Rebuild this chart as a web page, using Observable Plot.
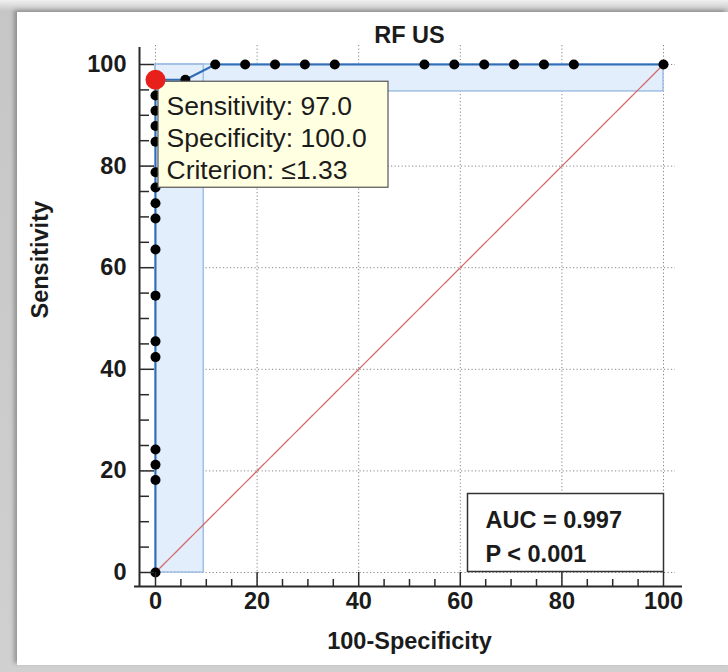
<!DOCTYPE html>
<html><head><meta charset="utf-8">
<script src="https://cdn.jsdelivr.net/npm/d3@7"></script>
<script src="https://cdn.jsdelivr.net/npm/@observablehq/plot@0.6"></script>
<style>
body{margin:0;background:#fff;}
#wrap{position:relative;width:728px;height:672px;background:linear-gradient(to bottom,#f0f0f0 0px,#c6c6c6 11px,#d0d0d0 100%);overflow:hidden}
#panel{position:absolute;left:17px;top:12px;right:0;bottom:7px;background:#fff;box-shadow:-3px -2px 4px rgba(0,0,0,0.28);}
#wrap svg{position:absolute;left:0;top:0}
</style></head><body><div id="wrap"><div id="panel"></div></div>
<script>
// ---- data ----
const titleText = "RF US";
const xTitle = "100-Specificity";
const yTitle = "Sensitivity";
const rocFpr  = [0,0,0,0,0,0,0,0,0,0,0,0,0,0,0,0,0, 5.88, 11.76, 17.65, 23.53, 29.41, 35.29, 52.94, 58.82, 64.71, 70.59, 76.47, 82.35, 100];
const rocSens = [0,18.2,21.2,24.2,42.4,45.5,54.5,63.6,69.7,72.7,75.8,78.8,84.8,87.9,90.9,93.9,97.0, 97.0, 100,100,100,100,100,100,100,100,100,100,100,100];
const critFpr = [0];
const critSens = [97.0];
const tipLines = ["Sensitivity: 97.0", "Specificity: 100.0", "Criterion: \u22641.33"];
const bandX1 = [0, 0];
const bandX2 = [9.5, 100];
const bandY1 = [0, 94.7];
const bandY2 = [100, 100];
const diagX = [0, 100];
const diagY = [0, 100];
const majorTicks = [0, 20, 40, 60, 80, 100];
const minorTicks = [5, 10, 15, 25, 30, 35, 45, 50, 55, 65, 70, 75, 85, 90, 95];
const statLines = ["AUC = 0.997", "P < 0.001"];

// ---- tables ----
const roc = rocFpr.map((f, i) => ({fpr: f, sens: rocSens[i]}));
const crit = critFpr.map((f, i) => ({fpr: f, sens: critSens[i]}));
const bands = bandX1.map((v, i) => ({x1: v, x2: bandX2[i], y1: bandY1[i], y2: bandY2[i]}));
const diag = diagX.map((v, i) => ({x: v, y: diagY[i]}));

const font = "'Liberation Sans', Arial, sans-serif";
const dark = "#1b1b1b";
const gridStyle = {stroke: "#858585", strokeWidth: 1, strokeDasharray: "1.2,2.3"};

const chart = Plot.plot({
  width: 728, height: 672,
  marginLeft: 155, marginRight: 65, marginTop: 64, marginBottom: 100,
  x: {domain: [0, 100], axis: null},
  y: {domain: [0, 100], axis: null},
  style: {background: "transparent", fontFamily: font, overflow: "visible", color: dark},
  marks: [
    // grid
    Plot.ruleX(majorTicks, {x: d => d, insetTop: -19, insetBottom: -14, ...gridStyle}),
    Plot.ruleY(majorTicks, {y: d => d, insetLeft: -16, insetRight: -12, ...gridStyle}),
    // CI bands
    Plot.rect(bands, {x1: "x1", x2: "x2", y1: "y1", y2: "y2", fill: "#e2eefc"}),
    Plot.rect(bands, {x1: "x1", x2: "x2", y1: "y1", y2: "y2", fill: "none", stroke: "#9fbfe3", strokeWidth: 1.5}),
    // diagonal reference
    Plot.line(diag, {x: "x", y: "y", stroke: "#d05a5a", strokeWidth: 1.3, strokeDasharray: "2.5,1", strokeOpacity: 0.9}),
    // ROC curve
    Plot.line(roc, {x: "fpr", y: "sens", stroke: "#2f6db5", strokeWidth: 2}),
    Plot.dot(roc, {x: "fpr", y: "sens", r: 5, fill: "#000", stroke: "none"}),
    // axes lines
    Plot.ruleX([0], {x: d => d, dx: -16, insetTop: -17, insetBottom: -15, stroke: "#2a2a2a", strokeWidth: 2}),
    Plot.ruleY([0], {y: d => d, dy: 14, insetLeft: -21, insetRight: -19, stroke: "#2a2a2a", strokeWidth: 2}),
    // ticks y
    Plot.ruleY(minorTicks, {y: d => d, insetLeft: -16, insetRight: 514, stroke: "#2a2a2a", strokeWidth: 1.5}),
    Plot.ruleY(majorTicks, {y: d => d, insetLeft: -16, insetRight: 509, stroke: "#2a2a2a", strokeWidth: 1.5}),
    // ticks x
    Plot.ruleX(minorTicks, {x: d => d, insetTop: 515, insetBottom: -14, stroke: "#2a2a2a", strokeWidth: 1.5}),
    Plot.ruleX(majorTicks, {x: d => d, insetTop: 508, insetBottom: -14, stroke: "#2a2a2a", strokeWidth: 1.5}),
    // tick labels
    Plot.text(majorTicks, {y: d => d, text: d => String(d), frameAnchor: "left", dx: -29, textAnchor: "end", fontSize: 23.5, fontWeight: "bold", fill: dark}),
    Plot.text(majorTicks, {x: d => d, text: d => String(d), frameAnchor: "bottom", dy: 36, fontSize: 23.5, fontWeight: "bold", fill: dark}),
    // titles
    Plot.text([titleText], {text: d => d, frameAnchor: "top", dy: -38, fontSize: 23.5, fontWeight: "bold", fill: dark}),
    Plot.text([xTitle], {text: d => d, frameAnchor: "bottom", dy: 76, fontSize: 23.5, fontWeight: "bold", fill: dark}),
    Plot.text([yTitle], {text: d => d, frameAnchor: "left", dx: -115, rotate: -90, fontSize: 23.5, fontWeight: "bold", fill: dark}),
    // AUC box
    Plot.frame({insetLeft: 312, insetTop: 429, insetRight: 0, insetBottom: 1, fill: "#fff", stroke: "#333", strokeWidth: 1.5}),
    Plot.text([statLines.join("\n")], {text: d => d, frameAnchor: "bottom-left", dx: 330, dy: -68, textAnchor: "start", lineAnchor: "top", lineHeight: 1.42, fontSize: 23.5, fontWeight: "bold", fill: dark}),
    // tooltip
    Plot.rect(crit, {x1: "fpr", x2: "fpr", y1: "sens", y2: "sens", insetLeft: 3, insetRight: -233, insetTop: 2, insetBottom: -108, fill: "#ffffe1", stroke: "#555", strokeWidth: 1.2}),
    Plot.text(crit, {x: "fpr", y: "sens", text: () => tipLines.join("\n"), dx: 11, dy: 12, textAnchor: "start", lineAnchor: "top", lineHeight: 1.22, fontSize: 26.5, fill: dark}),
    // criterion point
    Plot.dot(crit, {x: "fpr", y: "sens", r: 10, fill: "#e8201c", stroke: "none"})
  ]
});
document.getElementById("wrap").appendChild(chart);
</script></body></html>
